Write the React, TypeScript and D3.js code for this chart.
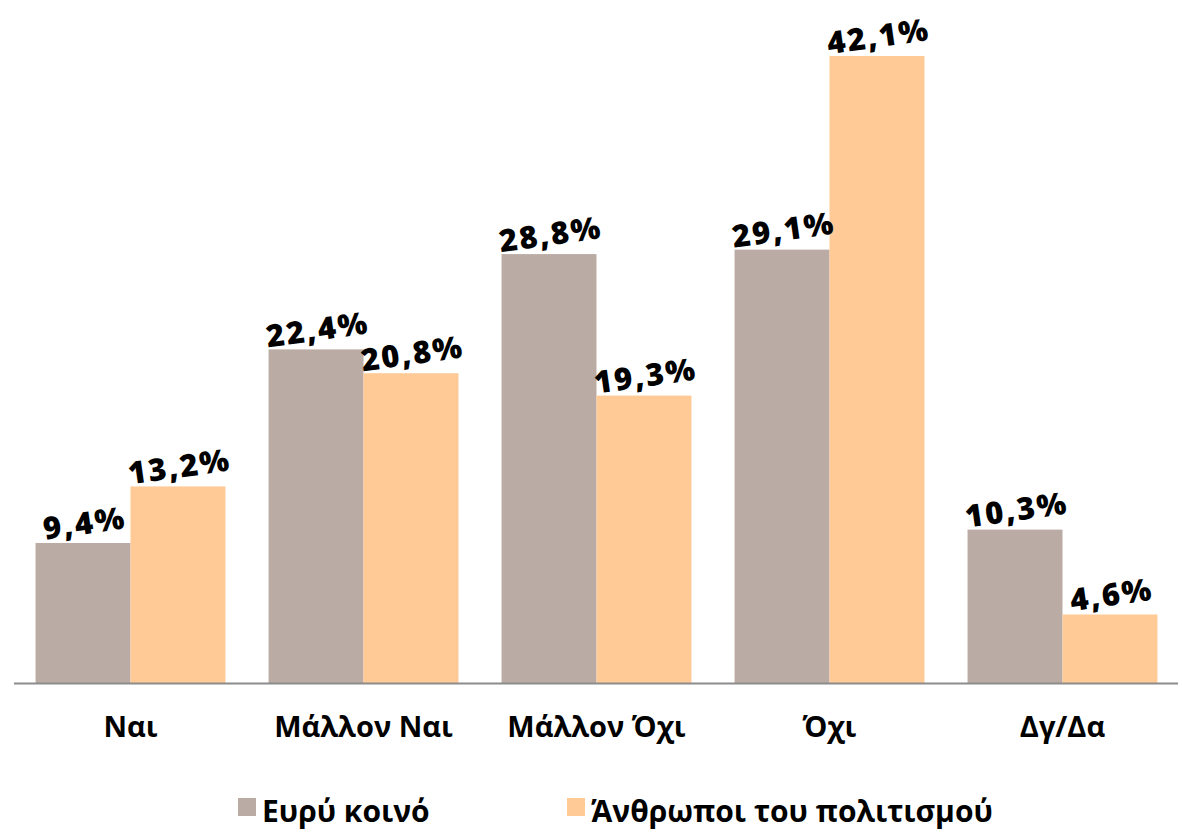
import React from 'react';
import * as d3 from 'd3';

// categories and series values
const categories = ['Ναι', 'Μάλλον Ναι', 'Μάλλον Όχι', 'Όχι', 'Δγ/Δα'];
const seriesNames = ['Ευρύ κοινό', 'Άνθρωποι του πολιτισμού'];
const publicValues = [9.4, 22.4, 28.8, 29.1, 10.3];
const cultureValues = [13.2, 20.8, 19.3, 42.1, 4.6];
const colors = ['#BAABA5', '#FFCA96'];

const W = 1182;
const H = 832;
const baseline = 683;

const App = () => {
  const x = d3.scaleBand<string>()
    .domain(categories)
    .range([14, 1179])
    .paddingInner(0.185)
    .paddingOuter(0.0925);

  const xSub = d3.scaleBand<string>()
    .domain(seriesNames)
    .range([0, x.bandwidth()]);

  const y = d3.scaleLinear()
    .domain([0, 45])
    .range([baseline, baseline - 45 * (627 / 42.1)]);

  const series = [publicValues, cultureValues];
  const fmt = (v: number) => v.toFixed(1).replace('.', ',') + '%';

  return (
    <svg width={W} height={H} style={{ position: 'absolute', left: 0, top: 0, background: '#fff' }}>
      {/* bars */}
      {categories.map((c, i) => (
        <g key={c} transform={`translate(${x(c)},0)`}>
          {seriesNames.map((s, j) => {
            const v = series[j][i];
            return (
              <rect key={s}
                x={xSub(s)} y={y(v)}
                width={xSub.bandwidth()} height={baseline - y(v)}
                fill={colors[j]} />
            );
          })}
        </g>
      ))}

      {/* axis line */}
      <line x1={14} x2={1178} y1={baseline + 0.5} y2={baseline + 0.5} stroke="#8c8c8c" strokeWidth={2} />

      {/* value labels */}
      {categories.map((c, i) => seriesNames.map((s, j) => {
        const v = series[j][i];
        const cx = (x(c) ?? 0) + (xSub(s) ?? 0) + xSub.bandwidth() / 2 + 3;
        const cy = y(v) - 9;
        return (
          <text key={c + s}
            transform={`translate(${cx},${cy}) rotate(-8)`}
            textAnchor="middle"
            fontFamily="'Open Sans', sans-serif"
            fontWeight={800}
            fontSize={31}
            letterSpacing={2}
            fill="#000">
            {fmt(v)}
          </text>
        );
      }))}

      {/* category labels */}
      {categories.map(c => (
        <text key={c}
          x={(x(c) ?? 0) + x.bandwidth() / 2}
          y={737}
          textAnchor="middle"
          fontFamily="'Open Sans', 'Noto Sans', sans-serif"
          fontWeight={700}
          fontSize={29}
          fill="#000">
          {c}
        </text>
      ))}

      {/* legend */}
      {seriesNames.map((s, j) => {
        const lx = [238, 567][j];
        return (
          <g key={s}>
            <rect x={lx} y={798} width={18} height={18} fill={colors[j]} />
            <text x={lx + 24} y={822}
              fontFamily="'Open Sans', 'Noto Sans', sans-serif"
              fontWeight={700}
              fontSize={30}
              fill="#000">
              {s}
            </text>
          </g>
        );
      })}
    </svg>
  );
};

export default App;
